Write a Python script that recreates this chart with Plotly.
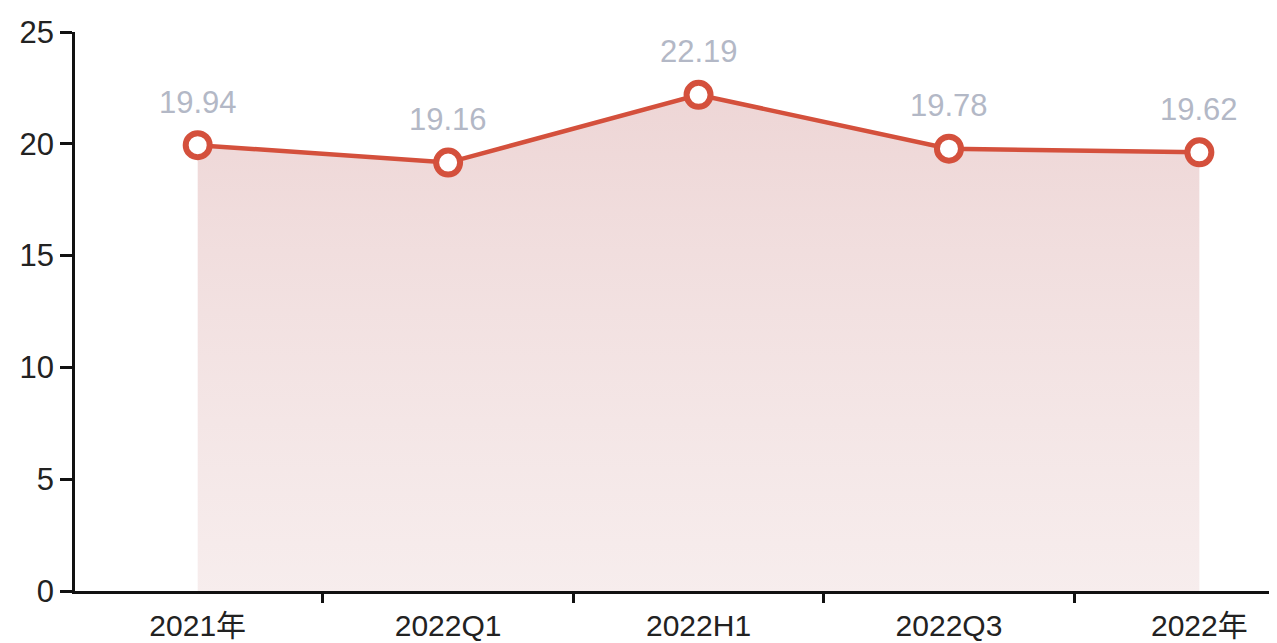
import plotly.graph_objects as go

# data
periods = ["2021年", "2022Q1", "2022H1", "2022Q3", "2022年"]
values = [19.94, 19.16, 22.19, 19.78, 19.62]
y_ticks = [0, 5, 10, 15, 20, 25]

line_red = "#d4503c"
font_fam = "Liberation Sans, Noto Sans CJK SC, sans-serif"

trace = go.Scatter(
    x=periods,
    y=values,
    mode="lines+markers",
    line=dict(color=line_red, width=4.5),
    marker=dict(size=24, color="white", line=dict(color=line_red, width=6)),
    fill="tozeroy",
    fillgradient=dict(
        type="vertical",
        colorscale=[[0, "rgba(240,222,222,0.55)"], [1, "rgba(232,200,200,0.75)"]],
    ),
    cliponaxis=False,
    hoverinfo="x+y",
)

# value labels sit a fixed distance above each point
labels = [
    dict(x=p, y=v, text="%.2f" % v, showarrow=False, yshift=43,
         font=dict(size=31, color="#b3b8c6", family=font_fam))
    for p, v in zip(periods, values)
]

# page body has an 8px margin, so the figure is sized to fit inside it
layout = go.Layout(
    width=1269,
    height=635,
    margin=dict(l=67, r=0, t=24, b=52),
    paper_bgcolor="white",
    plot_bgcolor="white",
    showlegend=False,
    annotations=labels,
    font=dict(family=font_fam, size=30, color="#222"),
    xaxis=dict(
        type="category",
        range=[-0.49, 4.31],
        automargin=False,
        showline=True,
        linecolor="#111",
        linewidth=2.5,
        ticks="outside",
        ticklen=9,
        tickwidth=2.5,
        tickcolor="#111",
        tickson="boundaries",
        ticklabelstandoff=6,
        showgrid=False,
        zeroline=False,
        tickfont=dict(size=30, color="#222"),
    ),
    yaxis=dict(
        range=[0, 25],
        tickvals=y_ticks,
        automargin=False,
        showline=True,
        linecolor="#111",
        linewidth=2.5,
        ticks="outside",
        ticklen=12,
        tickwidth=2.5,
        tickcolor="#111",
        showgrid=False,
        zeroline=False,
        tickfont=dict(size=31, color="#222"),
    ),
)

fig = go.Figure(data=[trace], layout=layout)
fig.write_html("out.html")
